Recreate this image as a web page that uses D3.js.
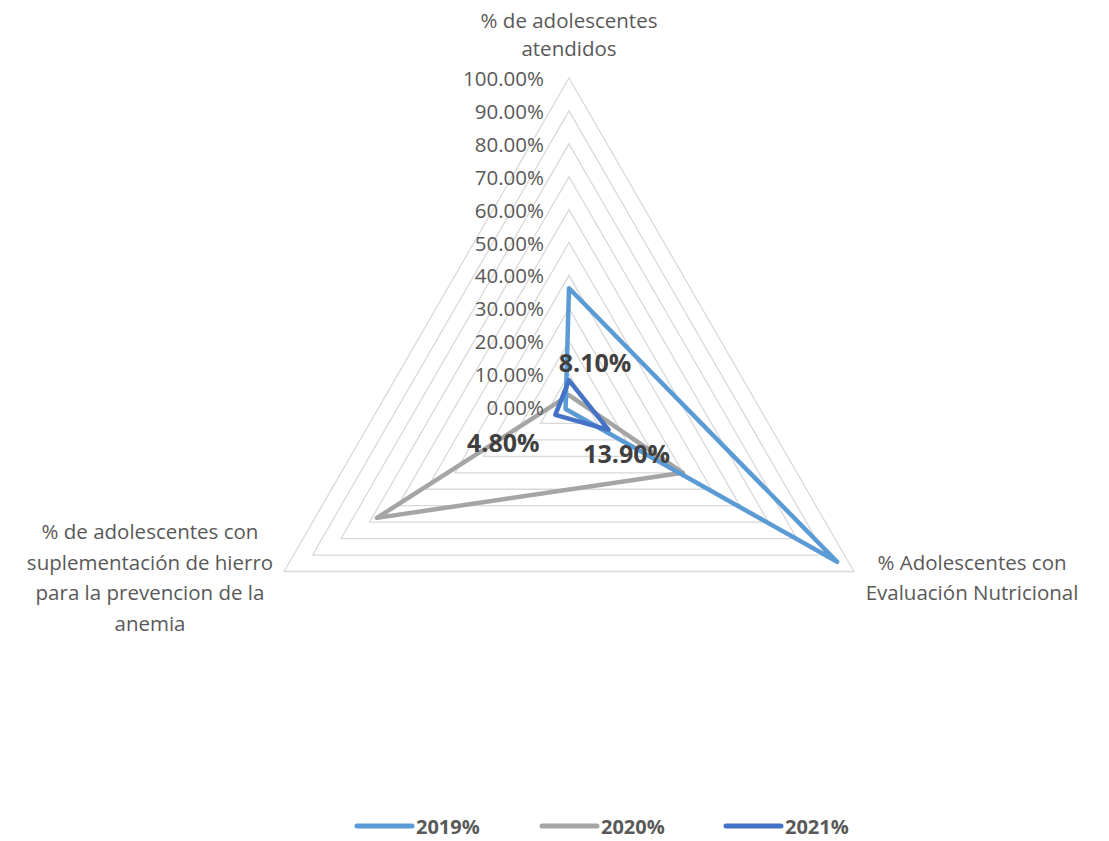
<!DOCTYPE html>
<html>
<head>
<meta charset="utf-8">
<script src="https://cdn.jsdelivr.net/npm/d3@7"></script>
<style>
  html, body { margin: 0; padding: 0; background: #fff; }
  svg { display: block; font-family: "Open Sans", sans-serif; }
</style>
</head>
<body>
<svg id="chart" width="1109" height="841"></svg>
<script>
// ---- data ----
const categories = [
  ["% de adolescentes", "atendidos"],
  ["% Adolescentes con", "Evaluación Nutricional"],
  ["% de adolescentes con", "suplementación de hierro", "para la prevencion de la", "anemia"]
];
const seriesNames = ["2019%", "2020%", "2021%"];
const values2019 = [0.361, 0.941, 0.012];
const values2020 = [0.036, 0.400, 0.674];
const values2021 = [0.081, 0.139, 0.048];
const tickValues = [0, 0.1, 0.2, 0.3, 0.4, 0.5, 0.6, 0.7, 0.8, 0.9, 1.0];
const dataLabels2021 = ["8.10%", "13.90%", "4.80%"];

// ---- layout / style ----
const colors = {"2019%": "#5B9BD5", "2020%": "#A5A5A5", "2021%": "#4472C4"};
const cx = 569, cy = 407, R = 329;
const labelOffsets = [[26, -18], [18, 23], [-52, 27]];
const catLabelPos = [
  {x: 569, y: 20, lh: 28},
  {x: 972, y: 562, lh: 30},
  {x: 150, y: 531, lh: 30.5}
];
const legendY = 826;

const svg = d3.select("#chart");
const g = svg.append("g").attr("transform", `translate(${cx},${cy})`);
const r = d3.scaleLinear().domain([0, 1]).range([0, R]);
const angle = i => i * 2 * Math.PI / 3;

const radial = d3.lineRadial()
  .angle((d, i) => angle(i))
  .radius(d => r(d))
  .curve(d3.curveLinearClosed);

// grid triangles
g.selectAll("path.grid")
  .data(tickValues.filter(t => t > 0))
  .join("path")
  .attr("class", "grid")
  .attr("d", t => radial([t, t, t]))
  .attr("fill", "none")
  .attr("stroke", "#D9D9D9")
  .attr("stroke-width", 1.3);

// tick labels
svg.selectAll("text.tick")
  .data(tickValues)
  .join("text")
  .attr("class", "tick")
  .attr("x", 544)
  .attr("y", t => cy - r(t))
  .attr("text-anchor", "end")
  .attr("dominant-baseline", "central")
  .attr("fill", "#595959")
  .attr("font-size", "20.5px")
  .text(t => d3.format(".2%")(t));

// series (draw 2020 first, then 2019, then 2021)
const series = [
  {name: "2020%", values: values2020},
  {name: "2019%", values: values2019},
  {name: "2021%", values: values2021}
];
g.selectAll("path.series")
  .data(series)
  .join("path")
  .attr("class", "series")
  .attr("d", s => radial(s.values))
  .attr("fill", "none")
  .attr("stroke", s => colors[s.name])
  .attr("stroke-width", 4.5)
  .attr("stroke-linejoin", "round");

// data labels for 2021
const pt = (v, i) => {
  const a = angle(i);
  return [r(v) * Math.sin(a), -r(v) * Math.cos(a)];
};
g.selectAll("text.dlabel")
  .data(values2021)
  .join("text")
  .attr("class", "dlabel")
  .attr("x", (v, i) => pt(v, i)[0] + labelOffsets[i][0])
  .attr("y", (v, i) => pt(v, i)[1] + labelOffsets[i][1])
  .attr("text-anchor", "middle")
  .attr("dominant-baseline", "central")
  .attr("font-weight", "bold")
  .attr("font-size", "25px")
  .attr("fill", "#404040")
  .text((v, i) => dataLabels2021[i]);

// category labels
categories.forEach((lines, i) => {
  const p = catLabelPos[i];
  const t = svg.append("text")
    .attr("text-anchor", "middle")
    .attr("fill", "#595959")
    .attr("font-size", "20.5px");
  lines.forEach((ln, j) => {
    t.append("tspan")
      .attr("x", p.x)
      .attr("y", p.y + j * p.lh)
      .attr("dominant-baseline", "central")
      .text(ln);
  });
});

// legend
const legendItems = [
  {name: "2019%", x: 357},
  {name: "2020%", x: 542},
  {name: "2021%", x: 726}
];
const lg = svg.append("g");
legendItems.forEach(it => {
  lg.append("line")
    .attr("x1", it.x).attr("x2", it.x + 55)
    .attr("y1", legendY).attr("y2", legendY)
    .attr("stroke", colors[it.name])
    .attr("stroke-width", 5)
    .attr("stroke-linecap", "round");
  lg.append("text")
    .attr("x", it.x + 59)
    .attr("y", legendY)
    .attr("dominant-baseline", "central")
    .attr("font-weight", "bold")
    .attr("font-size", "20px")
    .attr("fill", "#595959")
    .text(it.name);
});
</script>
</body>
</html>
